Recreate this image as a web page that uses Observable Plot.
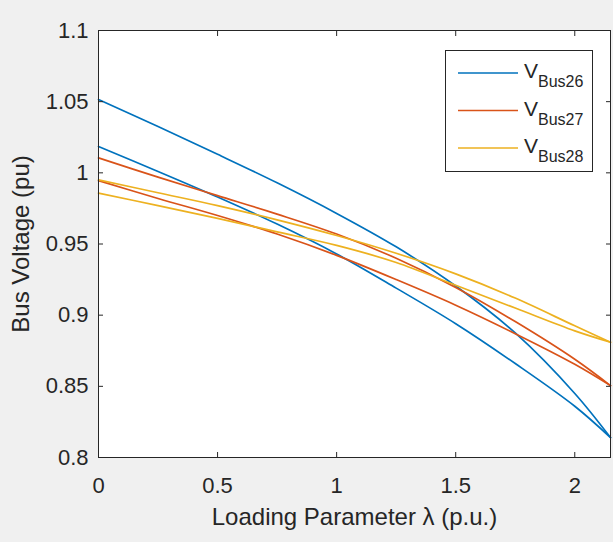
<!DOCTYPE html>
<html>
<head>
<meta charset="utf-8">
<script src="https://cdn.jsdelivr.net/npm/d3@7"></script>
<script src="https://cdn.jsdelivr.net/npm/@observablehq/plot@0.6"></script>
<style>
html, body { margin: 0; padding: 0; background: #f0f0f0; }
#wrap { position: relative; width: 613px; height: 542px; overflow: hidden; }
#legend { position: absolute; left: 445px; top: 50px; }
</style>
</head>
<body>
<div id="wrap"></div>
<script>
// ---- data ----
const lambda = [0, 0.25, 0.5, 0.75, 1.0, 1.25, 1.5, 1.75, 2.0, 2.15];
const bus26Upper = [1.0515, 1.0325, 1.013, 0.993, 0.9715, 0.948, 0.9205, 0.8875, 0.845, 0.814];
const bus26Lower = [1.0185, 1.001, 0.983, 0.964, 0.943, 0.919, 0.894, 0.866, 0.836, 0.814];
const bus27Upper = [1.0105, 0.997, 0.984, 0.971, 0.957, 0.940, 0.9195, 0.8955, 0.869, 0.8505];
const bus27Lower = [0.9945, 0.982, 0.970, 0.957, 0.942, 0.925, 0.907, 0.887, 0.8655, 0.8505];
const bus28Upper = [0.995, 0.986, 0.977, 0.967, 0.956, 0.9435, 0.929, 0.912, 0.8925, 0.881];
const bus28Lower = [0.9857, 0.977, 0.968, 0.9585, 0.949, 0.937, 0.921, 0.905, 0.889, 0.881];
const seriesNames = ["Bus26", "Bus27", "Bus28"];
const seriesColors = ["#0072BD", "#D95319", "#EDB120"];
const xTicks = [0, 0.5, 1, 1.5, 2];
const yTicks = [0.8, 0.85, 0.9, 0.95, 1, 1.05, 1.1];
const xLabel = "Loading Parameter λ (p.u.)";
const yLabel = "Bus Voltage (pu)";

// ---- build table ----
const branches = [
  [seriesNames[0], "upper", bus26Upper], [seriesNames[0], "lower", bus26Lower],
  [seriesNames[1], "upper", bus27Upper], [seriesNames[1], "lower", bus27Lower],
  [seriesNames[2], "upper", bus28Upper], [seriesNames[2], "lower", bus28Lower]
];
const rows = [];
for (const [s, b, vals] of branches) {
  vals.forEach((v, i) => rows.push({lambda: lambda[i], v, series: s, branch: s + "-" + b}));
}

const ink = "#262626";
const chart = Plot.plot({
  width: 613,
  height: 542,
  marginLeft: 98,
  marginRight: 3,
  marginTop: 30,
  marginBottom: 85,
  style: {background: "transparent", color: ink, font: "22px 'Liberation Sans', Arial, sans-serif"},
  x: {domain: [0, 2.15]},
  y: {domain: [0.8, 1.1]},
  color: {domain: seriesNames, range: seriesColors},
  marks: [
    Plot.frame({fill: "white"}),
    Plot.line(rows, {x: "lambda", y: "v", z: "branch", stroke: "series", strokeWidth: 1.7, curve: "catmull-rom"}),
    Plot.axisX(xTicks, {anchor: "bottom", tickSize: -5, tickPadding: 25, tickFormat: d => String(d), label: null}),
    Plot.axisX(xTicks, {anchor: "top", tickSize: -5, tickFormat: () => "", label: null}),
    Plot.axisY(yTicks, {anchor: "left", tickSize: -5, tickPadding: 15, tickFormat: d => String(+d.toFixed(2)), label: null}),
    Plot.axisY(yTicks, {anchor: "right", tickSize: -5, tickFormat: () => "", label: null}),
    Plot.frame({stroke: ink, strokeWidth: 1}),
    Plot.text([xLabel], {text: d => d, frameAnchor: "bottom", dy: 67, fontSize: 24, fill: ink}),
    Plot.text([yLabel], {text: d => d, frameAnchor: "left", textAnchor: "middle", rotate: -90, dx: -77, fontSize: 24, fill: ink})
  ]
});
const wrap = document.getElementById("wrap");
wrap.appendChild(chart);

// ---- legend ----
const lg = d3.select(wrap).append("svg").attr("id", "legend")
  .attr("width", 149).attr("height", 124)
  .style("font-family", "'Liberation Sans', Arial, sans-serif");
lg.append("rect").attr("x", 0.5).attr("y", 0.5).attr("width", 147).attr("height", 121)
  .attr("fill", "white").attr("stroke", ink);
seriesNames.forEach((name, i) => {
  const cy = 23 + i * 37.5;
  lg.append("line").attr("x1", 13).attr("x2", 73).attr("y1", cy).attr("y2", cy)
    .attr("stroke", seriesColors[i]).attr("stroke-width", 1.7);
  const t = lg.append("text").attr("x", 79).attr("y", cy + 5).attr("fill", ink).attr("font-size", 21);
  t.append("tspan").text("V");
  t.append("tspan").attr("dy", 9).attr("font-size", 16).text(name);
});
</script>
</body>
</html>
